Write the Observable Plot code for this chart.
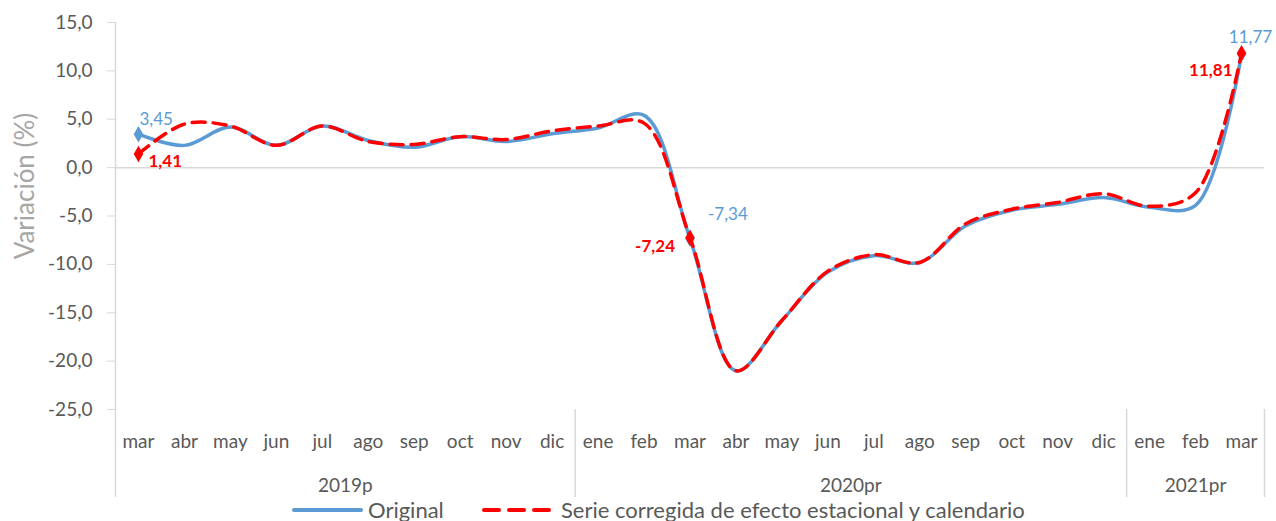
<!DOCTYPE html>
<html>
<head>
<meta charset="utf-8">
<script src="https://cdn.jsdelivr.net/npm/d3@7"></script>
<script src="https://cdn.jsdelivr.net/npm/@observablehq/plot@0.6"></script>
<style>
  body { margin: 0; background: #fff; font-family: Lato, sans-serif; }
  #chart { width: 1276px; height: 499px; }
  #chart svg { display: block; }
  .legend { position: relative; height: 22px; font-size: 22px; color: #595959; line-height: 22px; }
  .legend > * { position: absolute; top: 0; }
</style>
</head>
<body>
<div id="chart"></div>
<div class="legend">
  <svg style="left:291px" width="73" height="22"><line x1="3" x2="70" y1="11" y2="11" stroke="#5b9bd5" stroke-width="4" stroke-linecap="round"/></svg>
  <span style="left:368px">Original</span>
  <svg style="left:481px" width="75" height="22"><line x1="3" x2="72" y1="11" y2="11" stroke="#ff0000" stroke-width="4" stroke-dasharray="15,10" stroke-linecap="round"/></svg>
  <span style="left:561px">Serie corregida de efecto estacional y calendario</span>
</div>
<script>
const months = ["mar","abr","may","jun","jul","ago","sep","oct","nov","dic",
                "ene","feb","mar","abr","may","jun","jul","ago","sep","oct","nov","dic",
                "ene","feb","mar"];
const original  = [3.45, 2.3, 4.2, 2.3, 4.3, 2.8, 2.1, 3.2, 2.7, 3.5,
                   4.1, 5.4, -7.34, -21.0, -15.8, -10.8, -9.1, -9.8, -6.0, -4.4, -3.8, -3.1,
                   -4.1, -3.9, 11.77];
const corregida = [1.41, 4.5, 4.3, 2.3, 4.3, 2.7, 2.4, 3.2, 2.9, 3.8,
                   4.3, 4.6, -7.24, -21.0, -15.8, -10.7, -9.0, -9.8, -5.8, -4.3, -3.6, -2.7,
                   -4.0, -2.6, 11.81];
const years = ["2019p", "2020pr", "2021pr"];
const yearStart = [0, 10, 22];
const yearEnd = [9, 21, 24];
const yTicks = [15, 10, 5, 0, -5, -10, -15, -20, -25];
const labelIdx = [0, 12, 24];

const fmt1 = d => d.toFixed(1).replace(".", ",");
const fmt2 = d => d.toFixed(2).replace(".", ",");
const yMin = -25, yMax = 15;
const pxPerUnit = (409 - 22) / (yMax - yMin);
const belowY = yMin - (497 - 409) / pxPerUnit;
const seps = [-0.5].concat(yearEnd.map(e => e + 0.5));
const idx = (d, i) => i;

const blue = "#5b9bd5", red = "#ff0000", gray = "#595959";

const chart = Plot.plot({
  width: 1276,
  height: 499,
  marginLeft: 115,
  marginRight: 12,
  marginTop: 22,
  marginBottom: 90,
  style: { fontFamily: "Lato, sans-serif", background: "#fff" },
  x: { domain: [-0.5, months.length - 0.5], axis: null },
  y: { domain: [yMin, yMax], axis: null },
  marks: [
    Plot.ruleY([0], { stroke: "#d9d9d9", strokeWidth: 1.5 }),
    Plot.ruleX([seps[0]], { y1: yMax, y2: belowY, stroke: "#d9d9d9", strokeWidth: 1.5 }),
    Plot.ruleX(seps.slice(1), { y1: yMin, y2: belowY, stroke: "#d9d9d9", strokeWidth: 1.5 }),
    Plot.axisY({ ticks: yTicks, tickFormat: fmt1, tickSize: 8, tickPadding: 15, stroke: "#d9d9d9", fill: gray, fontSize: 19, label: null }),
    Plot.text(["Variación (%)"], { frameAnchor: "left", textAnchor: "middle", rotate: -90, dx: -90, dy: -30, fill: "#a6a6a6", fontSize: 26 }),
    Plot.text(months, { x: idx, y: yMin, text: d => d, dy: 32, fill: gray, fontSize: 19 }),
    Plot.text(years, { x: (d, i) => (yearStart[i] + yearEnd[i]) / 2, y: yMin, text: d => d, dy: 76, fill: gray, fontSize: 19 }),
    Plot.line(original, { x: idx, y: d => d, curve: "catmull-rom", stroke: blue, strokeWidth: 3.5 }),
    Plot.dot(labelIdx, { x: d => d, y: d => original[d], symbol: "diamond", r: 5, fill: blue }),
    Plot.line(corregida, { x: idx, y: d => d, curve: "catmull-rom", stroke: red, strokeWidth: 3.5, strokeDasharray: "13,8" }),
    Plot.dot(labelIdx, { x: d => d, y: d => corregida[d], symbol: "diamond", r: 5, fill: red }),
    // data labels - original
    Plot.text([labelIdx[0]], { x: d => d, y: d => original[d], text: d => fmt2(original[d]), textAnchor: "start", dx: 1, dy: -15, fill: blue, fontSize: 17 }),
    Plot.text([labelIdx[1]], { x: d => d, y: d => original[d], text: d => fmt2(original[d]), textAnchor: "start", dx: 18, dy: -24, fill: blue, fontSize: 17 }),
    Plot.text([labelIdx[2]], { x: d => d, y: d => original[d], text: d => fmt2(original[d]), textAnchor: "middle", dx: 9, dy: -16, fill: blue, fontSize: 17 }),
    // data labels - corregida
    Plot.text([labelIdx[0]], { x: d => d, y: d => corregida[d], text: d => fmt2(corregida[d]), textAnchor: "start", dx: 10, dy: 8, fill: red, fontSize: 17, fontWeight: "bold" }),
    Plot.text([labelIdx[1]], { x: d => d, y: d => corregida[d], text: d => fmt2(corregida[d]), textAnchor: "end", dx: -15, dy: 9, fill: red, fontSize: 17, fontWeight: "bold" }),
    Plot.text([labelIdx[2]], { x: d => d, y: d => corregida[d], text: d => fmt2(corregida[d]), textAnchor: "end", dx: -9, dy: 17, fill: red, fontSize: 17, fontWeight: "bold" })
  ]
});
document.getElementById("chart").appendChild(chart);
</script>
</body>
</html>
